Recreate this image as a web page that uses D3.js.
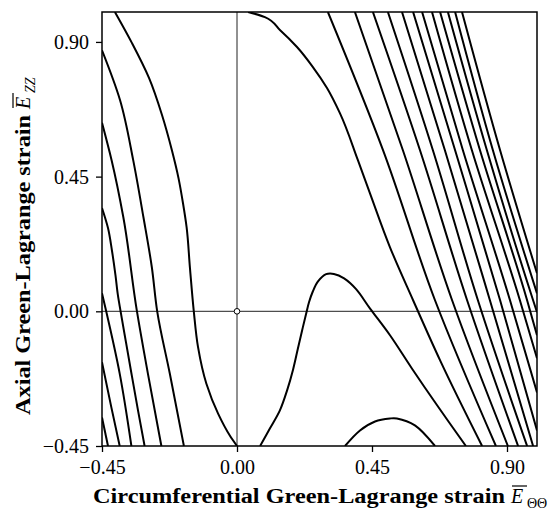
<!DOCTYPE html>
<html>
<head>
<meta charset="utf-8">
<script src="https://cdn.jsdelivr.net/npm/d3@7"></script>
<style>
body{margin:0;background:#fff;}
</style>
</head>
<body>
<script>
// axis setup
var tickValues = [-0.45, 0, 0.45, 0.90];
var tickLabels = ["\u22120.45", "0.00", "0.45", "0.90"];
var xDomain = [-0.45, 1.0];
var yDomain = [-0.45, 1.0];

// contour lines, pairs of [E_theta, E_z]
var curveA = [[-0.407,1.0],[-0.35,0.896],[-0.293,0.779],[-0.25,0.656],[-0.217,0.538],[-0.195,0.445],[-0.18,0.361],[-0.168,0.281],[-0.157,0.147],[-0.144,0.0],[-0.13,-0.119],[-0.102,-0.242],[-0.063,-0.342],[-0.024,-0.415],[0,-0.45]];
var curveB = [[-0.45,0.872],[-0.39,0.706],[-0.346,0.505],[-0.312,0.315],[-0.284,0.148],[-0.266,0],[-0.224,-0.208],[-0.177,-0.45]];
var curveC = [[-0.45,0.63],[-0.418,0.505],[-0.379,0.315],[-0.334,0.003],[-0.297,-0.208],[-0.252,-0.45]];
var curveD = [[-0.45,0.345],[-0.43,0.278],[-0.417,0.204],[-0.405,0.12],[-0.397,0.054],[-0.388,0],[-0.37,-0.104],[-0.352,-0.207],[-0.33,-0.331],[-0.308,-0.45]];
var curveE = [[-0.45,0.06],[-0.436,0],[-0.391,-0.208],[-0.352,-0.45]];
var curveF = [[-0.45,-0.17],[-0.419,-0.32],[-0.391,-0.45]];
var curveG = [[-0.45,-0.355],[-0.43,-0.45]];
var curveH = [[0.037,1.0],[0.093,0.983],[0.143,0.94],[0.2,0.883],[0.253,0.816],[0.3,0.746],[0.343,0.662],[0.403,0.505],[0.443,0.395],[0.51,0.214],[0.587,0.037],[0.677,-0.164],[0.817,-0.45]];
var bigBump = [[0.077,-0.45],[0.11,-0.391],[0.143,-0.331],[0.167,-0.264],[0.187,-0.194],[0.203,-0.124],[0.217,-0.064],[0.23,-0.01],[0.24,0.03],[0.253,0.067],[0.27,0.1],[0.297,0.124],[0.323,0.125],[0.357,0.11],[0.397,0.074],[0.443,0.01],[0.51,-0.08],[0.583,-0.191],[0.667,-0.314],[0.763,-0.45]];
var smallBump = [[0.36,-0.45],[0.41,-0.398],[0.46,-0.368],[0.51,-0.358],[0.533,-0.358],[0.593,-0.381],[0.66,-0.45]];
var lineL1 = [[0.303,1.0],[0.487,0.538],[0.66,0.037],[0.863,-0.45]];
var lineL2 = [[0.393,1.0],[0.553,0.538],[0.717,0.037],[0.903,-0.45]];
var lineL3 = [[0.453,1.0],[0.61,0.538],[0.767,0.037],[0.937,-0.45]];
var lineL4 = [[0.503,1.0],[0.653,0.538],[0.803,0.037],[0.967,-0.45]];
var lineL5 = [[0.55,1.0],[0.693,0.538],[0.843,0.037],[0.987,-0.45]];
var lineL6 = [[0.587,1.0],[0.727,0.538],[0.877,0.037],[1.0,-0.398]];
var lineL7 = [[0.617,1.0],[0.753,0.538],[0.91,0.037],[1.0,-0.271]];
var lineL8 = [[0.65,1.0],[0.783,0.538],[0.943,0.037],[1.0,-0.157]];
var lineL9 = [[0.677,1.0],[0.81,0.538],[0.967,0.037],[1.0,-0.08]];
var lineL10 = [[0.703,1.0],[0.833,0.538],[0.987,0.037],[1.0,-0.003]];
var lineL11 = [[0.727,1.0],[0.853,0.538],[1.0,0.06]];
var lineL12 = [[0.75,1.0],[0.877,0.538],[1.0,0.127]];

// curves that fall steadily from top to bottom, and the two humps
var fallingCurves = [curveA, curveB, curveC, curveD, curveE, curveF, curveG, curveH,
  lineL1, lineL2, lineL3, lineL4, lineL5, lineL6, lineL7, lineL8, lineL9, lineL10, lineL11, lineL12];
var humpCurves = [bigBump, smallBump];

var width = 548;
var height = 525;
var margins = {top:12, bottom:79, left:102, right:11};
var plotWidth = width - margins.left - margins.right;
var plotHeight = height - margins.top - margins.bottom;

var svg = d3.select("body").append("svg")
  .attr("width", width)
  .attr("height", height)
  .style("font-family", "'Liberation Serif', 'DejaVu Serif', serif");

var xScale = d3.scaleLinear().domain(xDomain).range([0, plotWidth]);
var yScale = d3.scaleLinear().domain(yDomain).range([plotHeight, 0]);

var plot = svg.append("g")
  .attr("transform", "translate(" + margins.left + "," + margins.top + ")");

plot.append("clipPath").attr("id", "clip")
  .append("rect").attr("width", plotWidth).attr("height", plotHeight);

// zero lines
plot.append("line")
  .attr("x1", xScale(0)).attr("x2", xScale(0))
  .attr("y1", 0).attr("y2", plotHeight)
  .attr("stroke", "#222").attr("stroke-width", 1);
plot.append("line")
  .attr("x1", 0).attr("x2", plotWidth)
  .attr("y1", yScale(0)).attr("y2", yScale(0))
  .attr("stroke", "#222").attr("stroke-width", 1);

var lineY = d3.line()
  .x(function(d){ return xScale(d[0]); })
  .y(function(d){ return yScale(d[1]); })
  .curve(d3.curveMonotoneY);
var lineHump = d3.line()
  .x(function(d){ return xScale(d[0]); })
  .y(function(d){ return yScale(d[1]); })
  .curve(d3.curveCatmullRom.alpha(0.5));

var curves = plot.append("g").attr("clip-path", "url(#clip)");
curves.selectAll("path.fall")
  .data(fallingCurves)
  .enter().append("path")
  .attr("class", "fall")
  .attr("d", function(d){
    // monotoneY wants y increasing in pixel order
    return lineY(d.slice().sort(function(a, b){ return b[1] - a[1]; }));
  })
  .attr("fill", "none")
  .attr("stroke", "#000")
  .attr("stroke-width", 2);
curves.selectAll("path.hump")
  .data(humpCurves)
  .enter().append("path")
  .attr("class", "hump")
  .attr("d", lineHump)
  .attr("fill", "none")
  .attr("stroke", "#000")
  .attr("stroke-width", 2);

// open circle at origin
plot.append("circle")
  .attr("cx", xScale(0)).attr("cy", yScale(0)).attr("r", 2.8)
  .attr("fill", "#fff").attr("stroke", "#000").attr("stroke-width", 1);

// frame
plot.append("rect")
  .attr("width", plotWidth).attr("height", plotHeight)
  .attr("fill", "none").attr("stroke", "#000").attr("stroke-width", 1.5);

// axes
var xAxis = d3.axisBottom(xScale).tickValues(tickValues)
  .tickFormat(function(d, i){ return tickLabels[i]; })
  .tickSize(6).tickPadding(8);
var yAxis = d3.axisLeft(yScale).tickValues(tickValues)
  .tickFormat(function(d, i){ return tickLabels[i]; })
  .tickSize(6).tickPadding(7);

var gx = plot.append("g").attr("transform", "translate(0," + plotHeight + ")").call(xAxis);
var gy = plot.append("g").call(yAxis);
[gx, gy].forEach(function(g){
  g.select(".domain").remove();
  g.selectAll("line").attr("stroke", "#000").attr("stroke-width", 1.3);
  g.selectAll("text").attr("fill", "#000")
    .style("font-family", "'Liberation Serif', serif").style("font-size", "20px");
});

// x axis title
var xt = svg.append("g").attr("transform", "translate(93,503)");
xt.append("text")
  .attr("x", 0).attr("y", 0)
  .attr("textLength", 412).attr("lengthAdjust", "spacingAndGlyphs")
  .style("font-weight", "bold").style("font-size", "20px")
  .text("Circumferential Green-Lagrange strain");
xt.append("text")
  .attr("x", 418).attr("y", 0)
  .style("font-style", "italic").style("font-size", "20px")
  .text("E");
xt.append("line")
  .attr("x1", 419).attr("x2", 434).attr("y1", -17).attr("y2", -17)
  .attr("stroke", "#000").attr("stroke-width", 1.2);
xt.append("text")
  .attr("x", 434).attr("y", 5)
  .style("font-size", "14px")
  .text("\u0398\u0398");

// y axis title
var yt = svg.append("g").attr("transform", "translate(30,415) rotate(-90)");
yt.append("text")
  .attr("x", 0).attr("y", 0)
  .attr("textLength", 300).attr("lengthAdjust", "spacingAndGlyphs")
  .style("font-weight", "bold").style("font-size", "20px")
  .text("Axial Green-Lagrange strain");
yt.append("text")
  .attr("x", 306).attr("y", 0)
  .style("font-style", "italic").style("font-size", "20px")
  .text("E");
yt.append("line")
  .attr("x1", 307).attr("x2", 322).attr("y1", -17).attr("y2", -17)
  .attr("stroke", "#000").attr("stroke-width", 1.2);
yt.append("text")
  .attr("x", 322).attr("y", 5)
  .style("font-style", "italic").style("font-size", "14px")
  .text("ZZ");
</script>
</body>
</html>
